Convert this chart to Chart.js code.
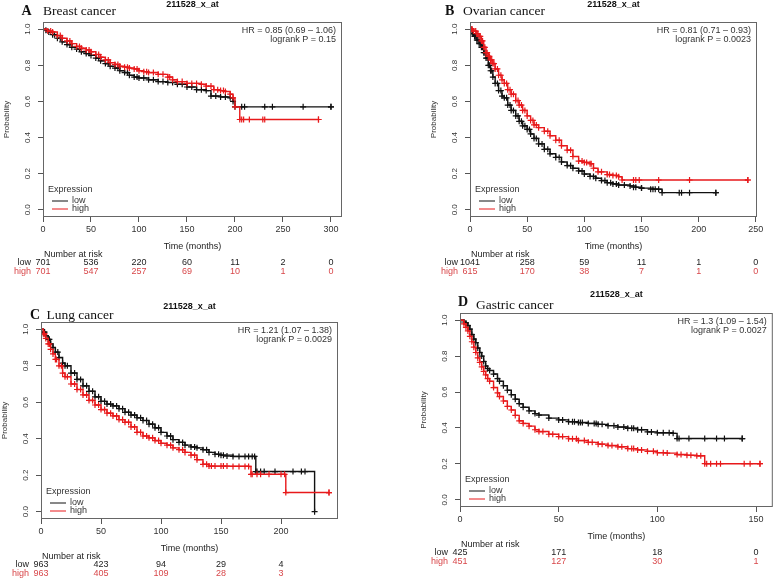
<!DOCTYPE html>
<html>
<head>
<meta charset="utf-8">
<script src="https://cdn.jsdelivr.net/npm/chart.js@4.4.1/dist/chart.umd.min.js"></script>
<style>
  html, body { margin: 0; padding: 0; background: #fff; }
  #wrap { position: relative; width: 778px; height: 579px; background: #fff; overflow: hidden; }
  #wrap canvas { position: absolute; }
</style>
</head>
<body>
<div id="wrap">
  <canvas id="cA" width="390" height="290" style="left:0;top:0"></canvas>
  <canvas id="cB" width="388" height="290" style="left:390px;top:0"></canvas>
  <canvas id="cC" width="390" height="289" style="left:0;top:290px"></canvas>
  <canvas id="cD" width="388" height="289" style="left:390px;top:290px"></canvas>
</div>
<script>
const probTicks = [0, 0.2, 0.4, 0.6, 0.8, 1.0];

// --- A: breast cancer
const breastTicks = [0, 50, 100, 150, 200, 250, 300];
const breastLow = [[0,1],[3,0.995],[6,0.985],[10,0.97],[15,0.95],[20,0.93],[25,0.915],[30,0.9],[35,0.89],[40,0.875],[45,0.865],[50,0.855],[55,0.84],[60,0.825],[65,0.81],[70,0.795],[75,0.785],[80,0.77],[85,0.76],[90,0.745],[95,0.735],[100,0.73],[110,0.72],[120,0.71],[130,0.705],[140,0.695],[150,0.68],[160,0.665],[170,0.66],[175,0.63],[185,0.625],[195,0.62],[198,0.6],[200,0.57],[300,0.57]];
const breastHigh = [[0,1],[5,0.99],[10,0.985],[15,0.965],[20,0.95],[25,0.935],[30,0.92],[35,0.905],[40,0.895],[45,0.885],[50,0.875],[55,0.86],[60,0.845],[65,0.83],[70,0.815],[75,0.805],[80,0.795],[85,0.79],[90,0.785],[95,0.78],[100,0.77],[105,0.765],[110,0.76],[120,0.75],[130,0.735],[135,0.72],[140,0.71],[150,0.7],[165,0.695],[170,0.685],[178,0.665],[185,0.66],[190,0.655],[195,0.64],[198,0.62],[200,0.57],[205,0.5],[287,0.5]];
const breastLowCens = [[12,0.97],[18,0.95],[28,0.915],[38,0.89],[48,0.865],[58,0.84],[68,0.81],[78,0.785],[88,0.76],[98,0.735],[105,0.73],[115,0.72],[125,0.71],[135,0.705],[145,0.695],[155,0.68],[165,0.665],[180,0.63],[190,0.625],[207,0.57],[210,0.57],[231,0.57],[239,0.57],[271,0.57],[300,0.57]];
const breastHighCens = [[8,0.99],[18,0.965],[28,0.935],[38,0.905],[48,0.885],[58,0.86],[68,0.83],[78,0.805],[88,0.79],[98,0.78],[108,0.765],[115,0.76],[125,0.75],[132,0.735],[145,0.71],[155,0.7],[160,0.7],[175,0.685],[182,0.665],[188,0.66],[207,0.5],[209,0.5],[215,0.5],[229,0.5],[231,0.5],[287,0.5]];
const breastRiskLow = [701, 536, 220, 60, 11, 2, 0];
const breastRiskHigh = [701, 547, 257, 69, 10, 1, 0];

// --- B: ovarian cancer
const ovarianTicks = [0, 50, 100, 150, 200, 250];
const ovarianLow = [[0,1],[2,0.975],[4,0.96],[6,0.94],[8,0.92],[10,0.9],[12,0.87],[14,0.84],[16,0.8],[18,0.77],[20,0.735],[22,0.7],[25,0.66],[28,0.63],[30,0.62],[33,0.58],[36,0.55],[40,0.52],[43,0.49],[46,0.465],[50,0.445],[53,0.42],[56,0.395],[60,0.365],[65,0.335],[70,0.31],[75,0.29],[80,0.265],[85,0.245],[90,0.23],[95,0.215],[100,0.198],[105,0.185],[110,0.175],[115,0.162],[120,0.15],[125,0.143],[130,0.137],[140,0.132],[145,0.125],[150,0.12],[160,0.114],[168,0.095],[215,0.095]];
const ovarianHigh = [[0,1],[3,0.99],[6,0.975],[8,0.96],[10,0.935],[12,0.9],[14,0.87],[16,0.85],[18,0.83],[20,0.81],[22,0.78],[25,0.745],[28,0.72],[30,0.7],[33,0.665],[36,0.64],[40,0.605],[43,0.58],[46,0.55],[50,0.52],[53,0.495],[56,0.47],[60,0.455],[65,0.435],[70,0.41],[75,0.385],[80,0.355],[85,0.33],[90,0.295],[95,0.27],[100,0.262],[105,0.255],[108,0.23],[112,0.21],[120,0.195],[125,0.19],[130,0.183],[133,0.165],[243,0.165]];
const ovarianLowCens = [[1,1],[3,0.975],[5,0.96],[7,0.94],[9,0.92],[11,0.9],[13,0.87],[15,0.84],[17,0.8],[19,0.77],[24,0.7],[27,0.66],[32,0.62],[35,0.58],[38,0.55],[42,0.52],[45,0.49],[48,0.465],[52,0.445],[58,0.395],[63,0.365],[68,0.335],[78,0.29],[88,0.245],[98,0.215],[108,0.185],[118,0.162],[123,0.15],[128,0.143],[135,0.137],[143,0.125],[150,0.12],[158,0.114],[162,0.114],[165,0.114],[183,0.095],[185,0.095],[192,0.095],[215,0.095]];
const ovarianHighCens = [[1,1],[2,1],[5,0.99],[7,0.975],[9,0.96],[11,0.935],[13,0.9],[15,0.87],[17,0.85],[19,0.83],[21,0.81],[24,0.78],[27,0.745],[32,0.7],[35,0.665],[38,0.64],[42,0.605],[45,0.58],[48,0.55],[55,0.495],[58,0.47],[68,0.435],[78,0.385],[88,0.33],[98,0.27],[102,0.262],[106,0.255],[115,0.21],[122,0.195],[128,0.19],[143,0.165],[145,0.165],[148,0.165],[165,0.165],[192,0.165],[243,0.165]];
const ovarianRiskLow = [1041, 258, 59, 11, 1, 0];
const ovarianRiskHigh = [615, 170, 38, 7, 1, 0];

// --- C: lung cancer
const lungTicks = [0, 50, 100, 150, 200];
const lungLow = [[0,1],[2,0.985],[4,0.965],[6,0.945],[8,0.92],[10,0.9],[12,0.875],[15,0.845],[18,0.815],[20,0.8],[25,0.76],[30,0.725],[35,0.69],[40,0.66],[45,0.63],[50,0.605],[55,0.59],[60,0.58],[65,0.565],[70,0.545],[75,0.53],[80,0.515],[85,0.5],[90,0.48],[95,0.46],[100,0.435],[105,0.415],[110,0.395],[115,0.38],[120,0.365],[125,0.355],[130,0.35],[135,0.34],[140,0.325],[145,0.315],[150,0.31],[160,0.303],[178,0.303],[179,0.22],[228,0]];
const lungHigh = [[0,1],[2,0.975],[4,0.95],[6,0.92],[8,0.89],[10,0.865],[12,0.835],[15,0.8],[18,0.76],[20,0.74],[25,0.7],[30,0.67],[35,0.64],[40,0.61],[45,0.585],[50,0.56],[55,0.54],[60,0.525],[65,0.505],[70,0.49],[75,0.465],[80,0.435],[85,0.415],[90,0.405],[95,0.39],[100,0.375],[105,0.365],[110,0.35],[115,0.34],[120,0.325],[125,0.31],[130,0.285],[135,0.26],[140,0.25],[173,0.248],[175,0.205],[203,0.205],[204,0.105],[240,0.105]];
const lungLowCens = [[3,0.985],[7,0.945],[14,0.875],[22,0.8],[28,0.76],[33,0.725],[38,0.69],[43,0.66],[48,0.63],[53,0.605],[58,0.59],[63,0.58],[68,0.565],[73,0.545],[78,0.53],[83,0.515],[88,0.5],[93,0.48],[98,0.46],[108,0.415],[118,0.38],[128,0.355],[138,0.34],[148,0.315],[152,0.31],[155,0.305],[165,0.303],[170,0.303],[173,0.303],[176,0.303],[180,0.22],[183,0.22],[186,0.22],[195,0.22],[210,0.22],[217,0.22],[220,0.22]];
const lungHighCens = [[3,0.975],[7,0.92],[13,0.835],[17,0.8],[22,0.74],[28,0.7],[33,0.67],[38,0.64],[43,0.61],[48,0.585],[53,0.56],[58,0.54],[63,0.525],[68,0.505],[73,0.49],[78,0.465],[83,0.435],[88,0.415],[93,0.405],[98,0.39],[108,0.365],[118,0.34],[128,0.31],[138,0.26],[142,0.25],[145,0.25],[150,0.25],[152,0.25],[155,0.25],[160,0.248],[165,0.248],[170,0.248],[176,0.205],[180,0.205],[183,0.205],[190,0.205],[200,0.205],[240,0.105]];
const lungRiskLow = [963, 423, 94, 29, 4];
const lungRiskHigh = [963, 405, 109, 28, 3];

// --- D: gastric cancer
const gastricTicks = [0, 50, 100, 150];
const gastricLow = [[0,1],[2,0.99],[3,0.985],[4,0.97],[5,0.95],[6,0.92],[7,0.895],[8,0.875],[9,0.845],[10,0.82],[11,0.8],[12,0.77],[13,0.745],[14,0.73],[15,0.72],[17,0.7],[19,0.675],[20,0.66],[22,0.635],[24,0.61],[26,0.585],[28,0.56],[30,0.535],[32,0.515],[35,0.495],[38,0.48],[40,0.472],[45,0.455],[50,0.445],[55,0.435],[60,0.43],[65,0.425],[70,0.42],[75,0.413],[80,0.405],[85,0.398],[90,0.39],[95,0.378],[100,0.373],[108,0.37],[110,0.341],[143,0.341]];
const gastricHigh = [[0,1],[2,0.98],[3,0.96],[4,0.94],[5,0.91],[6,0.88],[7,0.85],[8,0.82],[9,0.79],[10,0.765],[11,0.74],[12,0.715],[13,0.695],[14,0.675],[15,0.66],[17,0.625],[19,0.595],[20,0.575],[22,0.55],[24,0.52],[26,0.5],[28,0.47],[30,0.44],[32,0.425],[35,0.41],[38,0.39],[40,0.38],[45,0.365],[50,0.352],[55,0.34],[60,0.33],[65,0.32],[70,0.31],[75,0.302],[80,0.295],[85,0.285],[90,0.278],[95,0.27],[100,0.262],[105,0.26],[110,0.252],[115,0.248],[120,0.245],[124,0.201],[152,0.201]];
const gastricLowCens = [[52,0.445],[57,0.435],[58,0.435],[61,0.43],[62,0.43],[68,0.425],[69,0.425],[72,0.42],[78,0.413],[83,0.405],[87,0.398],[88,0.398],[92,0.39],[97,0.378],[103,0.373],[106,0.373],[111,0.341],[116,0.341],[124,0.341],[130,0.341],[134,0.341],[143,0.341]];
const gastricHighCens = [[42,0.38],[47,0.365],[52,0.352],[57,0.34],[59,0.34],[63,0.33],[67,0.32],[72,0.31],[77,0.302],[82,0.295],[87,0.285],[88,0.285],[92,0.278],[98,0.27],[103,0.262],[112,0.252],[117,0.248],[122,0.245],[125,0.201],[127,0.201],[130,0.201],[132,0.201],[144,0.201],[147,0.201],[152,0.201]];
const gastricRiskLow = [425, 171, 18, 0];
const gastricRiskHigh = [451, 127, 30, 1];

const RED = "#e8191b";
const RED_TXT = "#d8474a";
const BLACK = "#111";
const SANS = '"Liberation Sans", Arial, sans-serif';
const SERIF = '"Liberation Serif", "Times New Roman", serif';

// textes autour du graphe : titre, HR, légende, table des effectifs
const panelText = {
  id: "panelText",
  afterDraw(chart, args, o) {
    const ctx = chart.ctx;
    const a = chart.chartArea;
    const xs = chart.scales.x;
    const ys = chart.scales.y;
    const cx = (a.left + a.right) / 2;

    ctx.save();
    // cadre
    ctx.strokeStyle = "#666";
    ctx.lineWidth = 1;
    ctx.strokeRect(a.left + 0.5, a.top + 0.5, a.right - a.left - 1, a.bottom - a.top - 1);

    // titres
    ctx.fillStyle = "#111";
    ctx.textBaseline = "alphabetic";
    ctx.textAlign = "left";
    ctx.font = "bold 14px " + SERIF;
    ctx.fillText(o.letter, o.letterX, o.letterY);
    ctx.font = "13.5px " + SERIF;
    ctx.fillText(o.name, o.nameX, o.nameY);
    ctx.textAlign = "center";
    ctx.font = "bold 9px " + SANS;
    ctx.fillText("211528_x_at", cx, o.geneY);

    // HR + logrank
    ctx.fillStyle = "#333";
    ctx.font = "9px " + SANS;
    ctx.textAlign = "right";
    ctx.textBaseline = "middle";
    ctx.fillText(o.hr, a.right - 6, a.top + 9);
    ctx.fillText(o.p, a.right - 6, a.top + 17.5);

    // étiquettes de l'axe Y (verticales, comme R)
    ctx.font = "8px " + SANS;
    ctx.textAlign = "center";
    for (const t of ys.ticks) {
      const py = ys.getPixelForValue(t.value);
      ctx.save();
      ctx.translate(a.left - 15, py);
      ctx.rotate(-Math.PI / 2);
      ctx.fillText(t.value.toFixed(1), 0, 0);
      ctx.restore();
    }
    ctx.save();
    ctx.translate(a.left - 36, (ys.getPixelForValue(0) + ys.getPixelForValue(1)) / 2);
    ctx.rotate(-Math.PI / 2);
    ctx.fillText("Probability", 0, 0);
    ctx.restore();

    // légende
    const lx = a.left;
    const lb = a.bottom;
    ctx.font = "9px " + SANS;
    ctx.textAlign = "left";
    ctx.fillText("Expression", lx + 5, lb - 27);
    ctx.fillText("low", lx + 29, lb - 16);
    ctx.fillText("high", lx + 29, lb - 8);
    ctx.lineWidth = 1;
    ctx.strokeStyle = BLACK;
    ctx.beginPath(); ctx.moveTo(lx + 9, lb - 16); ctx.lineTo(lx + 25, lb - 16); ctx.stroke();
    ctx.strokeStyle = RED;
    ctx.beginPath(); ctx.moveTo(lx + 9, lb - 8); ctx.lineTo(lx + 25, lb - 8); ctx.stroke();

    // axe X
    ctx.textAlign = "center";
    ctx.fillStyle = "#222";
    ctx.fillText("Time (months)", cx, a.bottom + 30);

    // Number at risk
    const x0 = xs.getPixelForValue(0);
    ctx.textAlign = "left";
    ctx.fillText("Number at risk", x0 + 1, a.bottom + 38);
    ctx.textAlign = "right";
    ctx.fillText("low", x0 - 12, a.bottom + 46);
    ctx.fillStyle = RED_TXT;
    ctx.fillText("high", x0 - 12, a.bottom + 54.5);
    ctx.textAlign = "center";
    o.riskTimes.forEach((t, i) => {
      const px = xs.getPixelForValue(t);
      ctx.fillStyle = "#222";
      ctx.fillText(String(o.riskLow[i]), px, a.bottom + 46);
      ctx.fillStyle = RED_TXT;
      ctx.fillText(String(o.riskHigh[i]), px, a.bottom + 54.5);
    });
    ctx.restore();
  },
};

function curve(data, color) {
  return {
    data,
    showLine: true,
    stepped: true,
    borderColor: color,
    borderWidth: 1.4,
    pointStyle: "cross",
    pointRadius: 3,
    pointBorderColor: color,
    pointBorderWidth: 1.2,
    backgroundColor: color,
  };
}

function censored(data, color) {
  return {
    data,
    showLine: false,
    pointStyle: "cross",
    pointRadius: 3,
    pointBorderColor: color,
    pointBorderWidth: 1.2,
    borderColor: color,
  };
}

function makePanel(id, cfg) {
  return new Chart(document.getElementById(id), {
    type: "scatter",
    data: {
      datasets: [
        curve(cfg.high, RED),
        censored(cfg.highCens, RED),
        curve(cfg.low, BLACK),
        censored(cfg.lowCens, BLACK),
      ],
    },
    options: {
      responsive: false,
      animation: false,
      events: [],
      layout: { padding: cfg.padding },
      plugins: {
        legend: { display: false },
        tooltip: { enabled: false },
        panelText: cfg.text,
      },
      scales: {
        x: {
          type: "linear",
          min: 0,
          max: cfg.xmax,
          afterBuildTicks: (s) => { s.ticks = cfg.xTicks.map((v) => ({ value: v })); },
          afterFit: (s) => { s.height = 22; },
          ticks: { font: { family: SANS, size: 9 }, color: "#333", padding: 2, maxRotation: 0, autoSkip: false },
          grid: { drawOnChartArea: false, tickLength: 5, color: "#555" },
          border: { display: false },
        },
        y: {
          type: "linear",
          min: -0.04,
          max: 1.04,
          afterBuildTicks: (s) => { s.ticks = probTicks.map((v) => ({ value: v })); },
          afterFit: (s) => { s.width = cfg.yw; },
          ticks: { display: false },
          grid: { drawOnChartArea: false, tickLength: 5, color: "#555" },
          border: { display: false },
        },
      },
    },
    plugins: [panelText],
  });
}

makePanel("cA", {
  low: breastLow, high: breastHigh, lowCens: breastLowCens, highCens: breastHighCens,
  xmax: 311.5, xTicks: breastTicks, yw: 43,
  padding: { left: 0, top: 22, right: 48, bottom: 51 },
  text: {
    letter: "A", letterX: 21.5, letterY: 14.5, name: "Breast cancer", nameX: 43, nameY: 15, geneY: 6.5,
    hr: "HR = 0.85 (0.69 \u2013 1.06)", p: "logrank P = 0.15",
    riskTimes: breastTicks, riskLow: breastRiskLow, riskHigh: breastRiskHigh,
  },
});

makePanel("cB", {
  low: ovarianLow, high: ovarianHigh, lowCens: ovarianLowCens, highCens: ovarianHighCens,
  xmax: 251, xTicks: ovarianTicks, yw: 43,
  padding: { left: 37, top: 22, right: 21, bottom: 51 },
  text: {
    letter: "B", letterX: 55, letterY: 14.5, name: "Ovarian cancer", nameX: 73, nameY: 15, geneY: 6.5,
    hr: "HR = 0.81 (0.71 \u2013 0.93)", p: "logrank P = 0.0023",
    riskTimes: ovarianTicks, riskLow: ovarianRiskLow, riskHigh: ovarianRiskHigh,
  },
});

makePanel("cC", {
  low: lungLow, high: lungHigh, lowCens: lungLowCens, highCens: lungHighCens,
  xmax: 247.5, xTicks: lungTicks, yw: 41,
  padding: { left: 0, top: 32, right: 52, bottom: 38 },
  text: {
    letter: "C", letterX: 30, letterY: 28.5, name: "Lung cancer", nameX: 46.5, nameY: 29, geneY: 19,
    hr: "HR = 1.21 (1.07 \u2013 1.38)", p: "logrank P = 0.0029",
    riskTimes: lungTicks, riskLow: lungRiskLow, riskHigh: lungRiskHigh,
  },
});

makePanel("cD", {
  low: gastricLow, high: gastricHigh, lowCens: gastricLowCens, highCens: gastricHighCens,
  xmax: 158.5, xTicks: gastricTicks, yw: 43,
  padding: { left: 27, top: 23, right: 1, bottom: 50 },
  text: {
    letter: "D", letterX: 68, letterY: 16, name: "Gastric cancer", nameX: 86, nameY: 19, geneY: 7,
    hr: "HR = 1.3 (1.09 \u2013 1.54)", p: "logrank P = 0.0027",
    riskTimes: gastricTicks, riskLow: gastricRiskLow, riskHigh: gastricRiskHigh,
  },
});
</script>
</body>
</html>
